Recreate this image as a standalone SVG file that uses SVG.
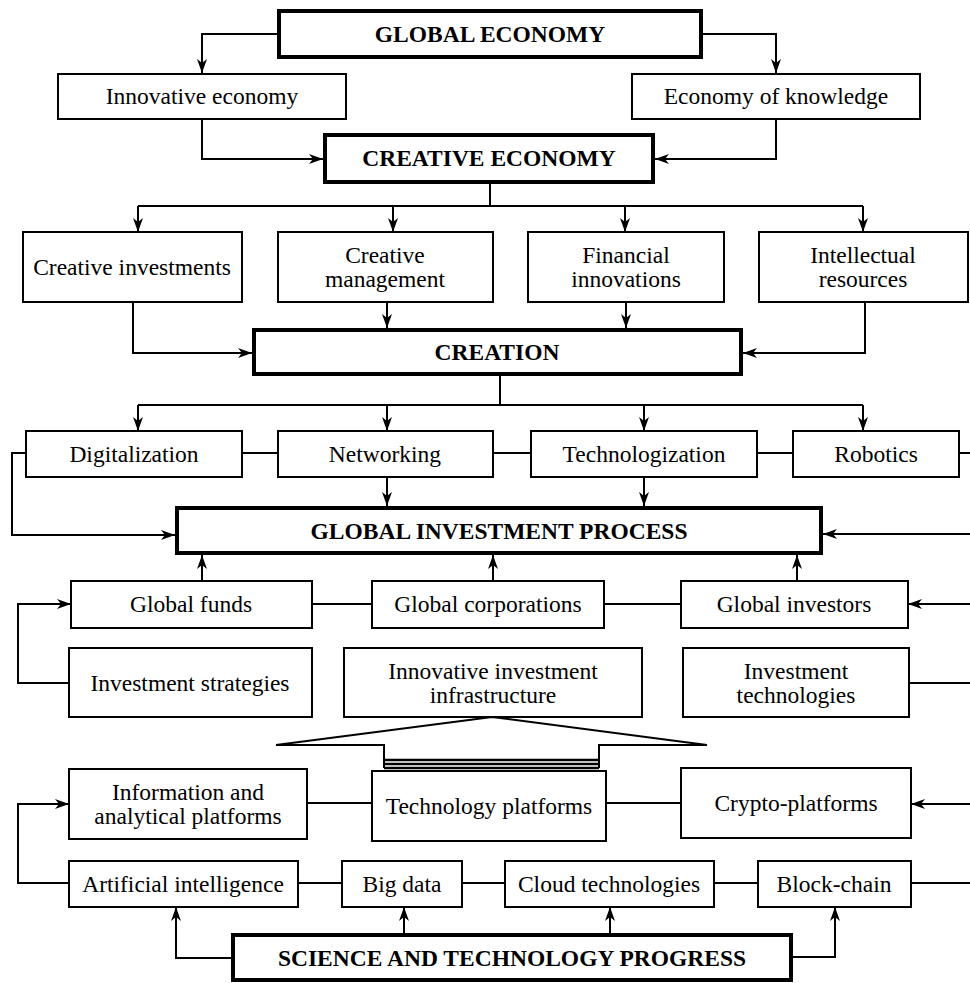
<svg xmlns="http://www.w3.org/2000/svg" width="970" height="983" viewBox="0 0 970 983">
<style>
.b{fill:#fff;stroke:#000;stroke-width:2}
.t{fill:#fff;stroke:#000;stroke-width:4}
text{font-family:"Liberation Serif","Times New Roman",serif;font-size:23.5px;text-anchor:middle;fill:#000}
.bt{font-weight:bold}
.c path{fill:none;stroke:#000;stroke-width:2}
.a{marker-end:url(#ah)}
</style>
<defs>
<marker id="ah" markerWidth="14" markerHeight="10" refX="14" refY="5" orient="auto" markerUnits="userSpaceOnUse"><path d="M0,0 L14,5 L0,10 L4,5 z" fill="#000"/></marker>
</defs>
<rect width="970" height="983" fill="#fff"/>
<g id="n-ge"><rect class="t" x="279" y="11" width="422" height="46"/><text class="bt" x="490" y="42">GLOBAL ECONOMY</text></g>
<g id="n-ie"><rect class="b" x="58" y="74" width="288" height="45"/><text x="202" y="104">Innovative economy</text></g>
<g id="n-ek"><rect class="b" x="632" y="74" width="288" height="45"/><text x="776" y="104">Economy of knowledge</text></g>
<g id="n-ce"><rect class="t" x="325" y="135" width="328" height="47"/><text class="bt" x="489" y="166">CREATIVE ECONOMY</text></g>
<g id="n-ci"><rect class="b" x="23" y="232" width="219" height="70"/><text x="132" y="275">Creative investments</text></g>
<g id="n-cm"><rect class="b" x="278" y="232" width="215" height="70"/><text x="385" y="263">Creative</text><text x="385" y="287">management</text></g>
<g id="n-fi"><rect class="b" x="528" y="232" width="196" height="70"/><text x="626" y="263">Financial</text><text x="626" y="287">innovations</text></g>
<g id="n-ir"><rect class="b" x="759" y="232" width="209" height="70"/><text x="863" y="263">Intellectual</text><text x="863" y="287">resources</text></g>
<g id="n-cr"><rect class="t" x="254" y="330" width="487" height="44"/><text class="bt" x="497" y="360">CREATION</text></g>
<g id="n-dg"><rect class="b" x="26" y="431" width="216" height="46"/><text x="134" y="462">Digitalization</text></g>
<g id="n-nw"><rect class="b" x="278" y="431" width="215" height="46"/><text x="385" y="462">Networking</text></g>
<g id="n-tc"><rect class="b" x="531" y="431" width="226" height="46"/><text x="644" y="462">Technologization</text></g>
<g id="n-rb"><rect class="b" x="793" y="431" width="166" height="46"/><text x="876" y="462">Robotics</text></g>
<g id="n-gip"><rect class="t" x="177" y="508" width="644" height="45"/><text class="bt" x="499" y="539">GLOBAL INVESTMENT PROCESS</text></g>
<g id="n-gf"><rect class="b" x="71" y="581" width="241" height="47"/><text x="191" y="612">Global funds</text></g>
<g id="n-gc"><rect class="b" x="372" y="581" width="232" height="47"/><text x="488" y="612">Global corporations</text></g>
<g id="n-gi"><rect class="b" x="681" y="581" width="227" height="47"/><text x="794" y="612">Global investors</text></g>
<g id="n-is"><rect class="b" x="69" y="648" width="243" height="69"/><text x="190" y="691">Investment strategies</text></g>
<g id="n-iii"><rect class="b" x="344" y="648" width="298" height="69"/><text x="493" y="679">Innovative investment</text><text x="493" y="703">infrastructure</text></g>
<g id="n-it"><rect class="b" x="683" y="648" width="226" height="69"/><text x="796" y="679">Investment</text><text x="796" y="703">technologies</text></g>
<g id="n-iap"><rect class="b" x="69" y="769" width="238" height="70"/><text x="188" y="800">Information and</text><text x="188" y="824">analytical platforms</text></g>
<g id="n-tp"><rect class="b" x="372" y="771" width="234" height="70"/><text x="489" y="814">Technology platforms</text></g>
<g id="n-cp"><rect class="b" x="681" y="768" width="230" height="70"/><text x="796" y="811">Crypto-platforms</text></g>
<g id="n-ai"><rect class="b" x="69" y="861" width="229" height="46"/><text x="183" y="892">Artificial intelligence</text></g>
<g id="n-bd"><rect class="b" x="342" y="861" width="120" height="46"/><text x="402" y="892">Big data</text></g>
<g id="n-ct"><rect class="b" x="505" y="861" width="209" height="46"/><text x="609" y="892">Cloud technologies</text></g>
<g id="n-bc"><rect class="b" x="758" y="861" width="153" height="46"/><text x="834" y="892">Block-chain</text></g>
<g id="n-stp"><rect class="t" x="233" y="935" width="558" height="45"/><text class="bt" x="512" y="966">SCIENCE AND TECHNOLOGY PROGRESS</text></g>
<g id="connectors" class="c">
<path class="a" d="M277,34 H202 V73"/>
<path class="a" d="M703,34 H776 V73"/>
<path class="a" d="M202,119 V159 H323"/>
<path class="a" d="M776,119 V159 H655"/>
<path d="M490,183 V206 M138,206 H863"/>
<path class="a" d="M138,206 V232"/>
<path class="a" d="M393,206 V232"/>
<path class="a" d="M625,206 V232"/>
<path class="a" d="M863,206 V232"/>
<path class="a" d="M133,302 V353 H252"/>
<path class="a" d="M387,302 V328"/>
<path class="a" d="M626,302 V328"/>
<path class="a" d="M865,302 V353 H743"/>
<path d="M500,376 V405 M138,405 H863"/>
<path class="a" d="M138,405 V431"/>
<path class="a" d="M387,405 V431"/>
<path class="a" d="M644,405 V431"/>
<path class="a" d="M863,405 V431"/>
<path d="M242,453 H278 M493,453 H531 M757,453 H793 M959,453 H970"/>
<path class="a" d="M26,453 H12 V535 H175"/>
<path class="a" d="M387,477 V506"/>
<path class="a" d="M644,477 V506"/>
<path class="a" d="M970,534 H823"/>
<path class="a" d="M202,581 V555"/>
<path class="a" d="M493,581 V555"/>
<path class="a" d="M797,581 V555"/>
<path d="M312,604 H372 M604,604 H681"/>
<path class="a" d="M970,604 H908"/>
<path class="a" d="M69,683 H18 V604 H71"/>
<path d="M909,683 H970"/>
<path d="M384,768 V745 H276 L492,717 L707,745 H599 V768"/>
<path d="M384,760 H599 M384,764 H599 M384,768 H599" style="stroke-width:2.5"/>
<path d="M307,803 H372 M606,803 H681"/>
<path class="a" d="M970,804 H911"/>
<path class="a" d="M69,883 H18 V804 H69"/>
<path d="M298,883 H342 M462,883 H505 M714,883 H758 M911,883 H970"/>
<path class="a" d="M231,958 H176 V907"/>
<path class="a" d="M404,933 V907"/>
<path class="a" d="M610,933 V907"/>
<path class="a" d="M793,957 H835 V907"/>
</g>
</svg>
